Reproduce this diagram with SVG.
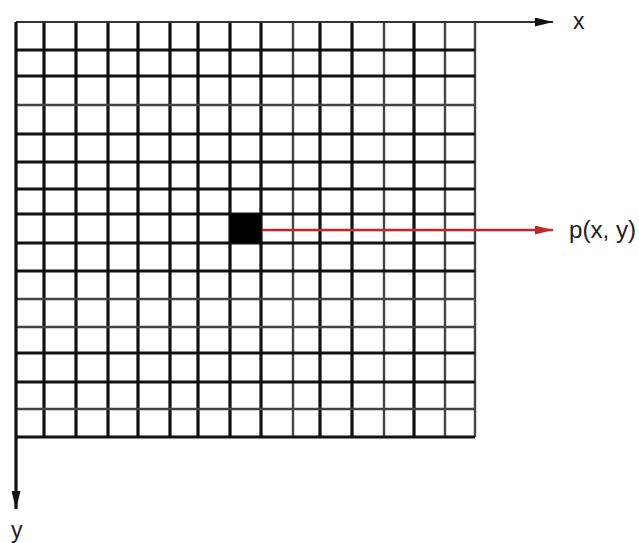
<svg xmlns="http://www.w3.org/2000/svg" width="639" height="543" viewBox="0 0 639 543">
<style>
.thick{stroke:#111;stroke-width:3.2;fill:none}
.thin{stroke:#444;stroke-width:2.4;fill:none}
.axis{stroke:#333;stroke-width:2.2;fill:none}
.red{stroke:#c0282f;stroke-width:2.5;fill:none}
.lbl{font-family:"Liberation Sans",sans-serif;font-size:23px;fill:#222}
</style>
<defs>
<marker id="ahr" viewBox="0 0 10 10" refX="10" refY="5" markerWidth="18" markerHeight="9" markerUnits="userSpaceOnUse" orient="auto" preserveAspectRatio="none">
<path d="M0,0 L10,5 L0,10 z" fill="#c0282f"/>
</marker>
<marker id="ahb" viewBox="0 0 10 10" refX="10" refY="5" markerWidth="18" markerHeight="9" markerUnits="userSpaceOnUse" orient="auto" preserveAspectRatio="none">
<path d="M0,0 L10,5 L0,10 z" fill="#111"/>
</marker>
</defs>
<rect width="639" height="543" fill="#fff"/>
<g id="grid">
<path class="thick" d="M44,22V437M76,22V437M108,22V437M138,22V437M170,22V437M198,22V437M230,22V437M261,22V437M320,22V437M352,22V437M414,22V437"/>
<path class="thin" d="M293,22V437M384,22V437M445,22V437M475,22V437"/>
<path class="thick" d="M16,50H475M16,76H475M16,134H475M16,162H475M16,189H475M16,214H475M16,243H475M16,271H475M16,353H475M16,382H475M16,437H475"/>
<path class="thin" d="M16,105H475M16,299H475M16,327H475M16,409H475"/>
</g>
<g id="pixel">
<rect x="230" y="214" width="31" height="29" fill="#000"/>
</g>
<g id="connectors">
<path class="axis" d="M16,22H553" marker-end="url(#ahb)"/>
<path class="thick" d="M16,22V509" marker-end="url(#ahb)"/>
<path class="red" d="M262,230H553" marker-end="url(#ahr)"/>
</g>
<g id="labels">
<text class="lbl" x="573" y="29">x</text>
<text class="lbl" x="569" y="238" textLength="67" lengthAdjust="spacingAndGlyphs">p(x, y)</text>
<text class="lbl" x="11" y="538">y</text>
</g>
</svg>
